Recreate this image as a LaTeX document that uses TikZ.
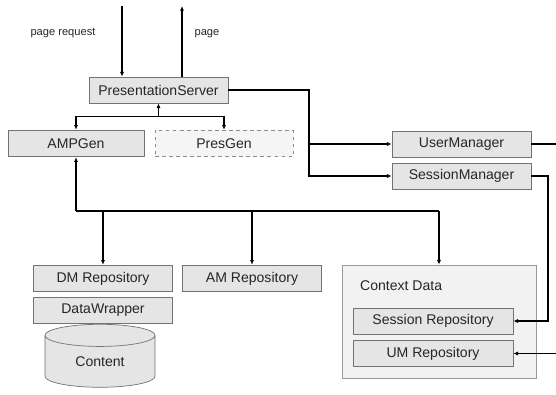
\documentclass[tikz,border=0pt]{standalone}
\usepackage{fontspec}
\setmainfont{Liberation Sans}
\usetikzlibrary{arrows.meta,shapes.geometric}

\begin{document}
\begin{tikzpicture}[x=.03cm,y=-.03cm,font=\fontsize{12}{14}\selectfont,
 box/.style={draw=black!55,fill=black!10,line width=.6pt,inner sep=0pt,
  minimum width=4.15cm,minimum height=.8cm,text=black!85},
 lbl/.style={font=\fontsize{9.5}{11}\selectfont,text=black!85},
 link/.style={line width=1pt,-{Latex[length=4pt,width=3.5pt]}},
 wire/.style={line width=1pt}]
\useasboundingbox (0,0) rectangle (556,395);
% servers
\node[box,minimum width=4.17cm,minimum height=.78cm] (ps) at (158.5,90) {PresentationServer};
\node[box,minimum width=4.08cm] (ampgen) at (76,143.5) {AMPGen};
\node[box,fill=black!4,draw=black!45,dashed,minimum width=4.14cm] (presgen) at (224,143.5) {PresGen};
\node[box,minimum width=4.17cm,minimum height=.78cm] (um) at (461.5,144) {UserManager};
\node[box,minimum width=4.17cm,minimum height=.78cm] (sm) at (461.5,176) {SessionManager};
% repositories
\node[box] (dm) at (103,278.5) {DM Repository};
\node[box] (dw) at (103,310.5) {DataWrapper};
\node[box,shape=cylinder,shape border rotate=90,aspect=.45,minimum width=3.3cm,minimum height=1.89cm] (content) at (100,361.5) {Content};
\node[box] (am) at (252,278.5) {AM Repository};
\node[box,fill=black!5,draw=black!40,minimum width=5.82cm,minimum height=3.39cm] (ctx) at (439,321.5) {};
\node[anchor=west,text=black!85] (ctxlbl) at (356,286) {Context Data};
\node[box,minimum width=4.8cm,minimum height=.78cm] (srepo) at (433,321) {Session Repository};
\node[box,minimum width=4.8cm] (umrepo) at (433,353.5) {UM Repository};
% request and page
\coordinate (req) at (122,6);
\coordinate (pg) at (182,6);
\node[lbl] (reqlbl) at (63,33) {page request};
\node[lbl] (pglbl) at (207,34) {page};
\draw[link] (req) -- (req |- ps.north);
\draw[link] (pg |- ps.north) -- (pg);
% generators
\coordinate (fork) at (158.5,116.5);
\draw[link] (fork) -- (ps.south);
\draw[link] (fork) -| (ampgen.north);
\draw[link] (fork) -| (presgen.north);
% managers
\coordinate (jx) at (309,0);
\coordinate (rx) at (548,0);
\coordinate (edge) at (556,0);
\draw[link] (ps.east) -| (jx |- um.west) -- (um.west);
\draw[link] (jx |- um.west) |- (sm.west);
\draw[wire] (um.east) -- (um.east -| edge);
\draw[link] (sm.east) -| (rx |- srepo.east) -- (srepo.east);
\draw[link] (umrepo.east -| edge) -- (umrepo.east);
% data bus
\coordinate (bus) at (76,211);
\draw[link] (bus) -- (ampgen.south);
\draw[wire] (bus) -- (bus -| ctx.north);
\draw[link] (bus -| dm.north) -- (dm.north);
\draw[link] (bus -| am.north) -- (am.north);
\draw[link] (bus -| ctx.north) -- (ctx.north);
\end{tikzpicture}
\end{document}
